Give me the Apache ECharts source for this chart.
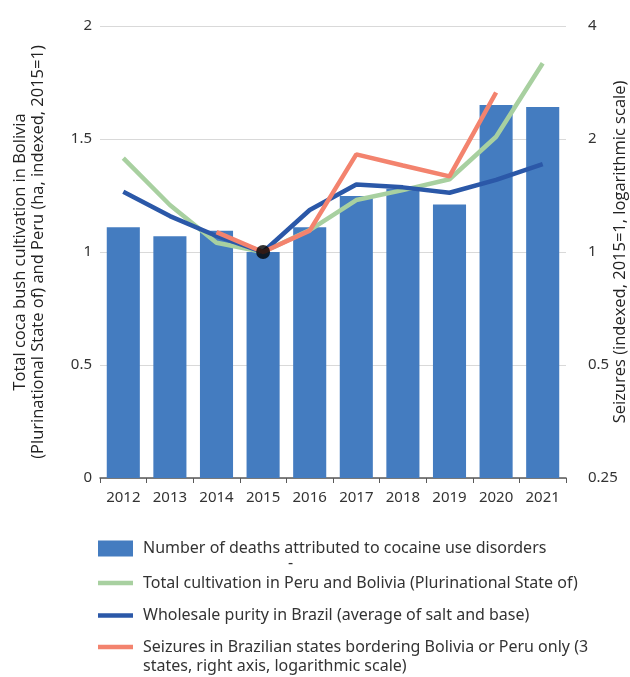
<!DOCTYPE html>
<html>
<head>
<meta charset="utf-8">
<script src="https://cdn.jsdelivr.net/npm/echarts@6/dist/echarts.min.js"></script>
<style>
html,body{margin:0;padding:0;background:#fff;}
#chart{width:630px;height:677px;}
</style>
</head>
<body>
<div id="chart"></div>
<script>
var years = ['2012','2013','2014','2015','2016','2017','2018','2019','2020','2021'];
var deaths = [1.11, 1.07, 1.094, 1.0, 1.11, 1.248, 1.28, 1.21, 1.65, 1.642];
var cultivation = [1.415, 1.208, 1.041, 1.0, 1.097, 1.23, 1.274, 1.322, 1.51, 1.835];
var purity = [1.267, 1.159, 1.071, 1.0, 1.186, 1.299, 1.286, 1.262, 1.319, 1.389];
var seizures = [null, null, 1.13, 1.0, 1.14, 1.82, 1.70, 1.59, 2.66, null];
var baseMarker = [null, null, null, 1.0, null, null, null, null, null, null];
var leftTicks = [0, 0.5, 1, 1.5, 2];
var rightTicks = [0.25, 0.5, 1, 2, 4];

var names = [
  'Number of deaths attributed to cocaine use disorders',
  'Total cultivation in Peru and Bolivia (Plurinational State of)',
  'Wholesale purity in Brazil (average of salt and base)',
  'Seizures in Brazilian states bordering Bolivia or Peru only (3 states, right axis, logarithmic scale)'
];
var colors = ['#447cc0', '#a8d0a0', '#2b58a8', '#f3836e'];
var FONT = '"Noto Sans", sans-serif';
var TFONT = '"Open Sans", sans-serif';

function legendFor(i, top, iconH, label) {
  return {
    show: true,
    data: [{name: names[i], icon: 'rect'}],
    orient: 'vertical',
    left: 98,
    top: top,
    padding: 0,
    itemWidth: 35,
    itemHeight: iconH,
    selectedMode: false,
    formatter: function () { return label; },
    textStyle: {fontFamily: FONT, fontSize: 16, color: '#333', lineHeight: 18, padding: [0, 0, 0, 5]}
  };
}

var chart = echarts.init(document.getElementById('chart'), null, {renderer: 'canvas'});
chart.setOption({
  animation: false,
  backgroundColor: '#fff',
  grid: {left: 100, right: 64, top: 26, bottom: 199, containLabel: false, outerBoundsMode: 'none'},
  legend: [
    legendFor(0, 539.5, 16, names[0]),
    legendFor(1, 574, 4.5, names[1]),
    legendFor(2, 606.5, 4.5, names[2]),
    legendFor(3, 638, 4.5, 'Seizures in Brazilian states bordering Bolivia or Peru only (3')
  ],
  graphic: [
    {type: 'text', left: 143, top: 658, style: {text: 'states, right axis, logarithmic scale)', font: '16px ' + FONT, fill: '#333'}},
    {type: 'text', left: 288, top: 555, style: {text: '-', font: '16px ' + FONT, fill: '#333'}}
  ],
  xAxis: {
    type: 'category',
    data: years,
    axisLine: {lineStyle: {color: '#595959', width: 1.5}},
    axisTick: {show: true, alignWithLabel: false, length: 5, lineStyle: {color: '#595959'}},
    axisLabel: {fontFamily: FONT, fontSize: 15, color: '#333', margin: 12, interval: 0}
  },
  yAxis: [
    {
      type: 'value',
      min: 0, max: 2, interval: 0.5,
      position: 'left',
      axisLine: {show: false},
      axisTick: {show: false},
      splitLine: {lineStyle: {color: '#d9d9d9', width: 1}},
      axisLabel: {fontFamily: FONT, fontSize: 15, color: '#333', margin: 8,
        formatter: function (v) { return leftTicks.indexOf(v) >= 0 ? String(v) : ''; }},
      name: 'Total coca bush cultivation in Bolivia\n(Plurinational State of) and Peru (ha, indexed, 2015=1)',
      nameLocation: 'middle',
      nameGap: 53,
      nameMoveOverlap: false,
      nameTextStyle: {fontFamily: TFONT, fontSize: 16.5, color: '#222', lineHeight: 18}
    },
    {
      type: 'log',
      logBase: 2,
      min: 0.25, max: 4, interval: 1,
      position: 'right',
      axisLine: {show: false},
      axisTick: {show: false},
      splitLine: {show: false},
      axisLabel: {fontFamily: FONT, fontSize: 15, color: '#333', margin: 22,
        formatter: function (v) { var r = Math.round(v * 100) / 100; return rightTicks.indexOf(r) >= 0 ? String(r) : ''; }},
      name: 'Seizures (indexed, 2015=1, logarithmic scale)',
      nameLocation: 'middle',
      nameGap: 46,
      nameMoveOverlap: false,
      nameTextStyle: {fontFamily: TFONT, fontSize: 16.5, color: '#222'}
    }
  ],
  series: [
    {name: names[0], type: 'bar', data: deaths, barWidth: '71%', itemStyle: {color: colors[0]}, z: 1},
    {name: names[1], type: 'line', data: cultivation, symbol: 'none', lineStyle: {color: colors[1], width: 4.5}, itemStyle: {color: colors[1]}, z: 2},
    {name: names[2], type: 'line', data: purity, symbol: 'none', lineStyle: {color: colors[2], width: 4.5}, itemStyle: {color: colors[2]}, z: 3},
    {name: names[3], type: 'line', yAxisIndex: 1, data: seizures, symbol: 'none', lineStyle: {color: colors[3], width: 4.5}, itemStyle: {color: colors[3]}, z: 4},
    {name: 'base', type: 'scatter', data: baseMarker, symbol: 'circle', symbolSize: 14, itemStyle: {color: '#000'}, z: 5}
  ]
});
</script>
</body>
</html>
